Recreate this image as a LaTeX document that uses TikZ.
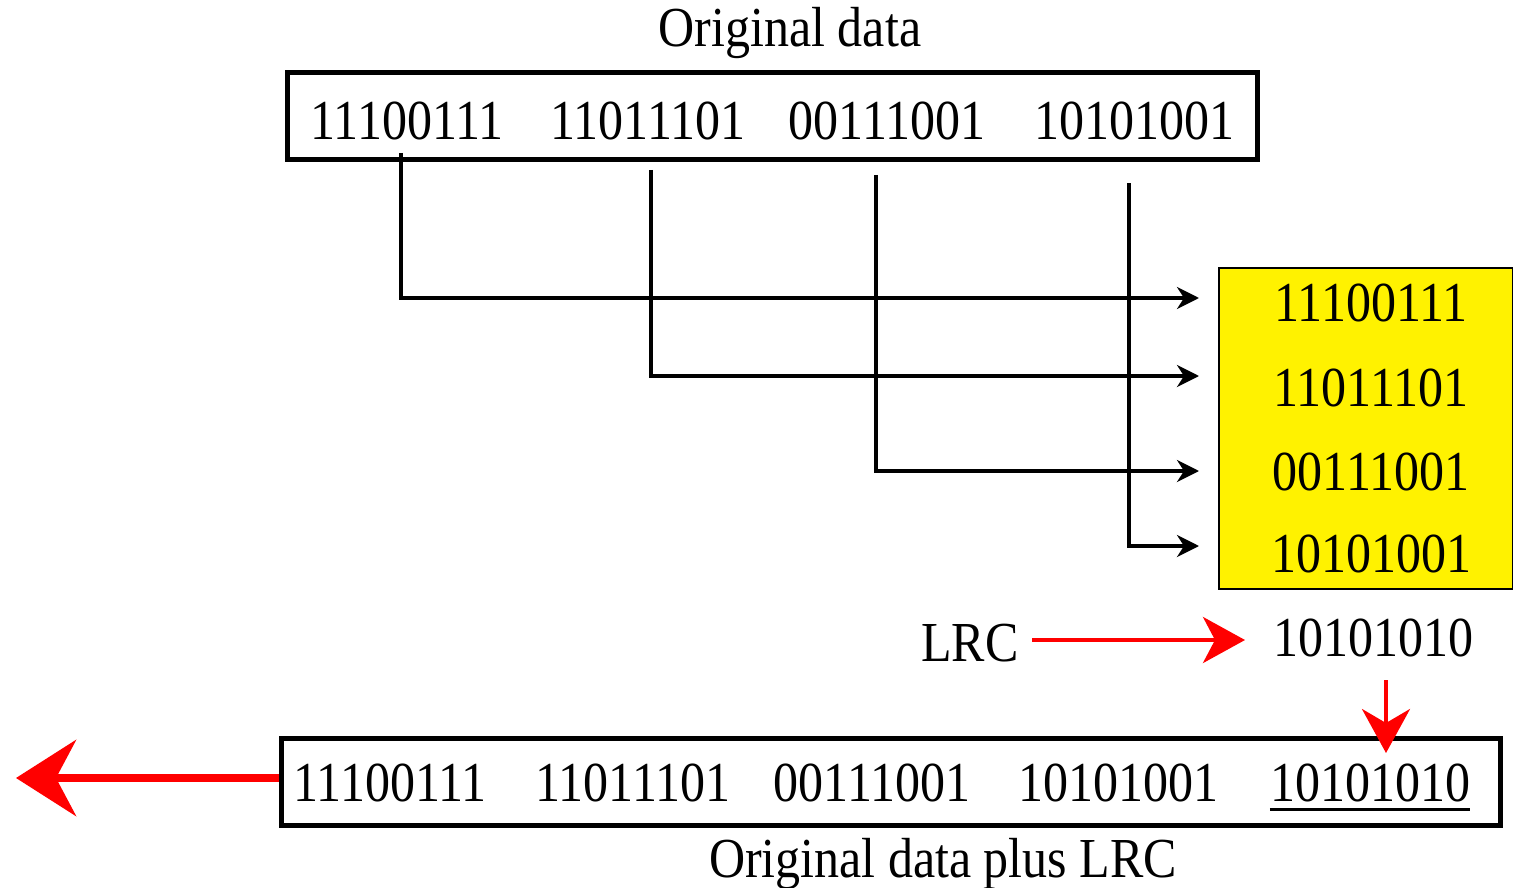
\documentclass[tikz,border=0pt]{standalone}
\usepackage{fontspec}
\setmainfont{Liberation Serif}
\usetikzlibrary{arrows.meta}
\newcommand{\tx}[1]{\scalebox{1}[1.13]{#1}}
\begin{document}
\begin{tikzpicture}[x=1pt,y=-1pt,
  lbl/.style={inner sep=0pt,font=\fontsize{50}{56}\selectfont},
  frame/.style={draw,line width=5pt},
  conn/.style={line width=3.5pt,-{Stealth[length=22pt,width=22pt,inset=7pt]}},
  ]
\useasboundingbox (0,0) rectangle (1513,888);
% top
\node[lbl] (title) at (790,33) {\tx{Original data}};
\node[frame,minimum width=970pt,minimum height=87pt,inner sep=0pt] (top) at (772,116.5) {};
\node[lbl] (t1) at (407,121) {\tx{11100111}};
\node[lbl] (t2) at (648,121) {\tx{11011101}};
\node[lbl] (t3) at (887,121) {\tx{00111001}};
\node[lbl] (t4) at (1134,121) {\tx{10101001}};
% yellow box
\node[draw,fill=yellow,line width=2pt,minimum width=294pt,minimum height=321pt,inner sep=0pt] (yb) at (1366,428.5) {};
\node[lbl] (y1) at (1371,303) {\tx{11100111}};
\node[lbl] (y2) at (1371,388) {\tx{11011101}};
\node[lbl] (y3) at (1371,472) {\tx{00111001}};
\node[lbl] (y4) at (1371,554) {\tx{10101001}};
\coordinate (s1) at (401,153);
\coordinate (s2) at (651,170);
\coordinate (s3) at (876,175);
\coordinate (s4) at (1129,183);
\coordinate (e1) at (1199,298);
\coordinate (e2) at (1199,376);
\coordinate (e3) at (1199,471);
\coordinate (e4) at (1199,546);
\draw[conn] (s1) |- (e1);
\draw[conn] (s2) |- (e2);
\draw[conn] (s3) |- (e3);
\draw[conn] (s4) |- (e4);
% LRC
\node[lbl] (lrc) at (970,643) {\tx{LRC}};
\node[lbl] (lv) at (1373,638) {\tx{10101010}};
\coordinate (lrcstart) at (1032,640);
\coordinate (lrcend) at (1245,640);
\draw[red,line width=4pt,-{Stealth[length=42pt,width=46pt,inset=12pt]}] (lrcstart) -- (lrcend);
% bottom
\node[frame,minimum width=1219pt,minimum height=87pt,inner sep=0pt] (bot) at (890.5,781.5) {};
\node[lbl] (b1) at (390,783) {\tx{11100111}};
\node[lbl] (b2) at (633,783) {\tx{11011101}};
\node[lbl] (b3) at (872,783) {\tx{00111001}};
\node[lbl] (b4) at (1118,783) {\tx{10101001}};
\node[lbl] (b5) at (1370,783) {\tx{10101010}};
\draw[line width=3.5pt] ([yshift=-7pt]b5.south west) -- ([yshift=-7pt]b5.south east);
\coordinate (dstart) at (1386,680);
\coordinate (dtip) at (1386,753);
\draw[red,line width=4pt,-{Stealth[length=44pt,width=48pt,inset=14pt]}] (dstart) -- (dtip);
\coordinate (lstart) at (279,778);
\coordinate (ltip) at (16,778);
\draw[red,line width=8pt,-{Stealth[length=60pt,width=76pt,inset=20pt]}] (lstart) -- (ltip);
\node[lbl] (blabel) at (943,864) {\tx{Original data plus LRC}};
\end{tikzpicture}
\end{document}
